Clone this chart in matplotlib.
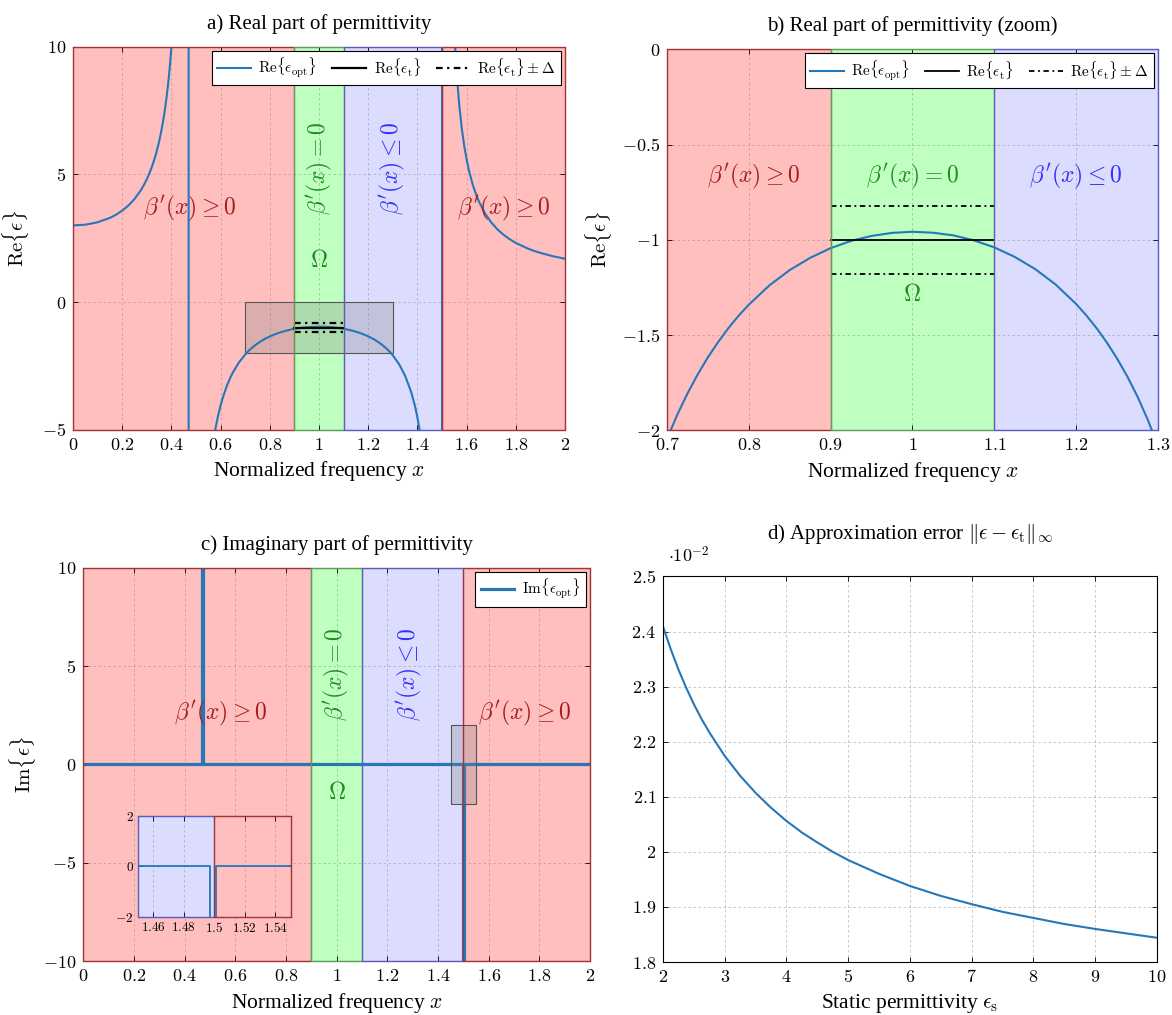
import matplotlib
matplotlib.use("Agg")
import matplotlib.pyplot as plt
from matplotlib.patches import Rectangle
from matplotlib.ticker import FuncFormatter

plt.rcParams['font.family'] = ['Liberation Serif', 'DejaVu Serif']
plt.rcParams['mathtext.fontset'] = 'cm'

# Re{eps_opt} (poles at x=0.47 and x=1.5 drawn as +-100 jumps)
re_x = [0, 0.05, 0.1, 0.15, 0.175, 0.2, 0.225, 0.25, 0.275, 0.29, 0.3, 0.31, 0.32, 0.33,
        0.34, 0.35, 0.355, 0.36, 0.365, 0.37, 0.375, 0.38, 0.385, 0.39, 0.395, 0.40, 0.405,
        0.41, 0.47, 0.47, 0.56, 0.57, 0.58, 0.59, 0.60, 0.61, 0.625, 0.64, 0.65, 0.675,
        0.70, 0.7125, 0.725, 0.7375, 0.75, 0.7625, 0.775, 0.7875, 0.80, 0.825, 0.85, 0.875,
        0.90, 0.925, 0.95, 0.975, 1.0, 1.025, 1.05, 1.075, 1.10, 1.125, 1.15, 1.175, 1.20,
        1.2125, 1.225, 1.2375, 1.25, 1.2625, 1.275, 1.2875, 1.30, 1.325, 1.35, 1.375, 1.39,
        1.40, 1.41, 1.42, 1.5, 1.5, 1.545, 1.55, 1.56, 1.57, 1.58, 1.59, 1.60, 1.61, 1.625,
        1.64, 1.65, 1.675, 1.70, 1.725, 1.75, 1.775, 1.80, 1.85, 1.875, 1.90, 1.95, 2.0]
re_y = [3.004, 3.034, 3.128, 3.300, 3.425, 3.583, 3.783, 4.039, 4.371, 4.620, 4.813,
        5.031, 5.280, 5.567, 5.900, 6.291, 6.513, 6.755, 7.021, 7.314, 7.639, 8.000, 8.405,
        8.861, 9.378, 9.970, 10.655, 11.45, 100, -100, -6.14, -5.452, -4.89, -4.427,
        -4.035, -3.701, -3.283, -2.942, -2.747, -2.350, -2.045, -1.918, -1.806, -1.706,
        -1.616, -1.536, -1.463, -1.398, -1.340, -1.239, -1.158, -1.094, -1.043, -1.005,
        -0.979, -0.963, -0.957, -0.962, -0.976, -1.002, -1.039, -1.089, -1.153, -1.234,
        -1.336, -1.396, -1.463, -1.538, -1.622, -1.716, -1.822, -1.943, -2.08, -2.419,
        -2.877, -3.527, -4.063, -4.512, -5.061, -5.75, -100, 100, 11.67, 10.57, 8.90,
        7.717, 6.83, 6.138, 5.586, 5.136, 4.596, 4.173, 3.939, 3.471, 3.123, 2.853, 2.638,
        2.464, 2.320, 2.095, 2.006, 1.929, 1.801, 1.701]

# Im{eps_opt}: zero with narrow spikes at the poles
im_x = [0, 0.468, 0.468, 0.472, 0.472, 1.497, 1.497, 1.501, 1.501, 2]
im_y = [0, 0, 100, 100, 0, 0, -100, -100, 0, 0]

# target value on Omega and tolerance
omega = [0.9, 1.1]
eps_t = -1.0
delta = 0.18

# panel d: error (units of 1e-2) vs static permittivity
es = [2, 2.125, 2.25, 2.375, 2.5, 2.625, 2.75, 3, 3.25, 3.5, 3.75, 4, 4.25, 4.5, 4.75,
      5, 5.5, 6, 6.5, 7, 7.5, 8, 8.5, 9, 9.5, 10]
err = [2.409, 2.368, 2.331, 2.298, 2.268, 2.241, 2.217, 2.174, 2.138, 2.107, 2.080,
       2.056, 2.035, 2.017, 2.000, 1.985, 1.960, 1.938, 1.920, 1.905, 1.891, 1.880,
       1.869, 1.860, 1.852, 1.844]

# band limits in x and their meaning
band_edges = [0, 0.9, 1.1, 1.5, 2]
band_kind = ['pos', 'zero', 'neg', 'pos']

fills = {'pos': '#ffbfbf', 'zero': '#bfffbf', 'neg': '#dcdcff'}
edges = {'pos': '#a83232', 'zero': '#5aa05a', 'neg': '#5a5ac8'}
txtcol = {'pos': '#a51c1c', 'zero': '#1e8c1e', 'neg': '#3030ff'}
labels = {'pos': r"$\beta'(x) \geq 0$", 'zero': r"$\beta'(x) = 0$", 'neg': r"$\beta'(x) \leq 0$"}
blue = '#2677b8'

fmt = FuncFormatter(lambda v, p: '$%g$' % v)


def style(ax, size=13):
    ax.tick_params(direction='in', top=True, right=True, length=3.5, width=0.6,
                   labelsize=size, pad=5)
    ax.xaxis.set_major_formatter(fmt)
    ax.yaxis.set_major_formatter(fmt)
    ax.grid(True, color='#8a8a8a', lw=0.6, ls=(0, (3, 3)), alpha=0.55)
    ax.set_axisbelow('line')
    for s in ax.spines.values():
        s.set_linewidth(0.8)


def bands(ax, xlo, xhi, ylo, yhi):
    for i, k in enumerate(band_kind):
        x0, x1 = max(band_edges[i], xlo), min(band_edges[i + 1], xhi)
        if x1 <= x0:
            continue
        ax.axvspan(x0, x1, facecolor=fills[k], edgecolor='none', zorder=1)
        ax.add_patch(Rectangle((x0, ylo), x1 - x0, yhi - ylo, fill=False,
                               edgecolor=edges[k], lw=0.9, zorder=2.6, clip_on=False))


def region_text(ax, x, y, k, rot=0):
    ax.text(x, y, labels[k], color=txtcol[k], fontsize=17, ha='center', va='center',
            rotation=rot, zorder=3)


def target_lines(ax, lw):
    ax.plot(omega, [eps_t, eps_t], color='black', lw=lw, label=r'$\mathrm{Re}\{\epsilon_{\mathrm{t}}\}$', zorder=2.2)
    ax.plot(omega, [eps_t + delta] * 2, color='black', lw=lw, ls=(0, (3, 2, 1, 2)),
            label=r'$\mathrm{Re}\{\epsilon_{\mathrm{t}}\} \pm \Delta$', zorder=2.2)
    ax.plot(omega, [eps_t - delta] * 2, color='black', lw=lw, ls=(0, (3, 2, 1, 2)), zorder=2.2)


def legend(ax, ncol):
    lg = ax.legend(loc='upper right', ncol=ncol, fontsize=11, fancybox=False,
                   edgecolor='black', framealpha=1, borderaxespad=0.25, handlelength=2.2,
                   columnspacing=1.0, handletextpad=0.5, borderpad=0.35)
    lg.get_frame().set_linewidth(0.8)
    lg.set_zorder(5)


fig = plt.figure(figsize=(11.72, 10.15), dpi=100)

# a) real part
ax = fig.add_axes([0.0623, 0.5764, 0.4198, 0.3776])
bands(ax, 0, 2, -5, 10)
ax.plot(re_x, re_y, color=blue, lw=1.5, label=r'$\mathrm{Re}\{\epsilon_{\mathrm{opt}}\}$', zorder=2)
target_lines(ax, 1.6)
ax.add_patch(Rectangle((0.7, -2), 0.6, 2, facecolor='#808080', alpha=0.28, edgecolor='none', zorder=1.6))
ax.add_patch(Rectangle((0.7, -2), 0.6, 2, fill=False, edgecolor='#555555', lw=0.8, zorder=1.6))
region_text(ax, 0.474, 3.68, 'pos')
region_text(ax, 1.752, 3.68, 'pos')
region_text(ax, 1.0, 5.24, 'zero', 90)
region_text(ax, 1.3, 5.24, 'neg', 90)
ax.text(1.0, 1.62, r'$\Omega$', color=txtcol['zero'], fontsize=17, ha='center', va='center')
ax.set_xlim(0, 2)
ax.set_ylim(-5, 10)
ax.set_xticks([0, 0.2, 0.4, 0.6, 0.8, 1, 1.2, 1.4, 1.6, 1.8, 2])
ax.set_yticks([-5, 0, 5, 10])
style(ax)
legend(ax, 3)
ax.set_title('a) Real part of permittivity', fontsize=15, pad=13)
ax.set_xlabel('Normalized frequency $x$', fontsize=15.5)
ax.set_ylabel(r'$\mathrm{Re}\{\epsilon\}$', fontsize=15, labelpad=8)

# b) zoom
ax = fig.add_axes([0.5691, 0.5759, 0.4189, 0.3754])
bands(ax, 0.7, 1.3, -2, 0)
ax.plot(re_x, re_y, color=blue, lw=1.5, label=r'$\mathrm{Re}\{\epsilon_{\mathrm{opt}}\}$', zorder=2)
target_lines(ax, 1.3)
region_text(ax, 0.806, -0.668, 'pos')
region_text(ax, 1.0, -0.668, 'zero')
region_text(ax, 1.2, -0.668, 'neg')
ax.text(1.0, -1.29, r'$\Omega$', color=txtcol['zero'], fontsize=17, ha='center', va='center')
ax.set_xlim(0.7, 1.3)
ax.set_ylim(-2, 0)
ax.set_xticks([0.7, 0.8, 0.9, 1, 1.1, 1.2, 1.3])
ax.set_yticks([-2, -1.5, -1, -0.5, 0])
style(ax)
legend(ax, 3)
ax.set_title('b) Real part of permittivity (zoom)', fontsize=15, pad=13)
ax.set_xlabel('Normalized frequency $x$', fontsize=15.5)
ax.set_ylabel(r'$\mathrm{Re}\{\epsilon\}$', fontsize=15, labelpad=6)

# c) imaginary part
ax = fig.add_axes([0.0712, 0.0532, 0.4322, 0.3872])
bands(ax, 0, 2, -10, 10)
ax.plot(im_x, im_y, color=blue, lw=2.3, label=r'$\mathrm{Im}\{\epsilon_{\mathrm{opt}}\}$', zorder=2)
ax.add_patch(Rectangle((1.45, -2), 0.1, 4, facecolor='#808080', alpha=0.28, edgecolor='none', zorder=2.1))
ax.add_patch(Rectangle((1.45, -2), 0.1, 4, fill=False, edgecolor='#555555', lw=0.8, zorder=2.1))
region_text(ax, 0.543, 2.59, 'pos')
region_text(ax, 1.742, 2.59, 'pos')
region_text(ax, 1.0, 4.58, 'zero', 90)
region_text(ax, 1.287, 4.58, 'neg', 90)
ax.text(1.0, -1.45, r'$\Omega$', color=txtcol['zero'], fontsize=17, ha='center', va='center')
ax.set_xlim(0, 2)
ax.set_ylim(-10, 10)
ax.set_xticks([0, 0.2, 0.4, 0.6, 0.8, 1, 1.2, 1.4, 1.6, 1.8, 2])
ax.set_yticks([-10, -5, 0, 5, 10])
style(ax)
legend(ax, 1)
ax.set_title('c) Imaginary part of permittivity', fontsize=15, pad=13)
ax.set_xlabel('Normalized frequency $x$', fontsize=15.5)
ax.set_ylabel(r'$\mathrm{Im}\{\epsilon\}$', fontsize=15, labelpad=4)

# inset around the pole at 1.5
ins = fig.add_axes([0.1175, 0.0966, 0.1306, 0.0998])
bands(ins, 1.45, 1.55, -2, 2)
ins.plot(im_x, im_y, color=blue, lw=1.3, zorder=2)
ins.set_xlim(1.45, 1.55)
ins.set_ylim(-2, 2)
ins.set_xticks([1.46, 1.48, 1.5, 1.52, 1.54])
ins.set_yticks([-2, 0, 2])
style(ins, size=9.5)
ins.tick_params(pad=3)

# d) approximation error
ax = fig.add_axes([0.5657, 0.0522, 0.4215, 0.3799])
ax.plot(es, err, color=blue, lw=1.5)
ax.set_xlim(2, 10)
ax.set_ylim(1.8, 2.5)
ax.set_xticks(range(2, 11))
ax.set_yticks([1.8, 1.9, 2.0, 2.1, 2.2, 2.3, 2.4, 2.5])
style(ax)
ax.text(0.01, 1.025, r'$\cdot 10^{-2}$', transform=ax.transAxes, fontsize=13, ha='left', va='bottom')
ax.set_title(r'd) Approximation error $\|\epsilon - \epsilon_{\mathrm{t}}\|_{\infty}$', fontsize=15, pad=27)
ax.set_xlabel(r'Static permittivity $\epsilon_{\mathrm{s}}$', fontsize=15.5)

plt.savefig("out.png", dpi=100)
